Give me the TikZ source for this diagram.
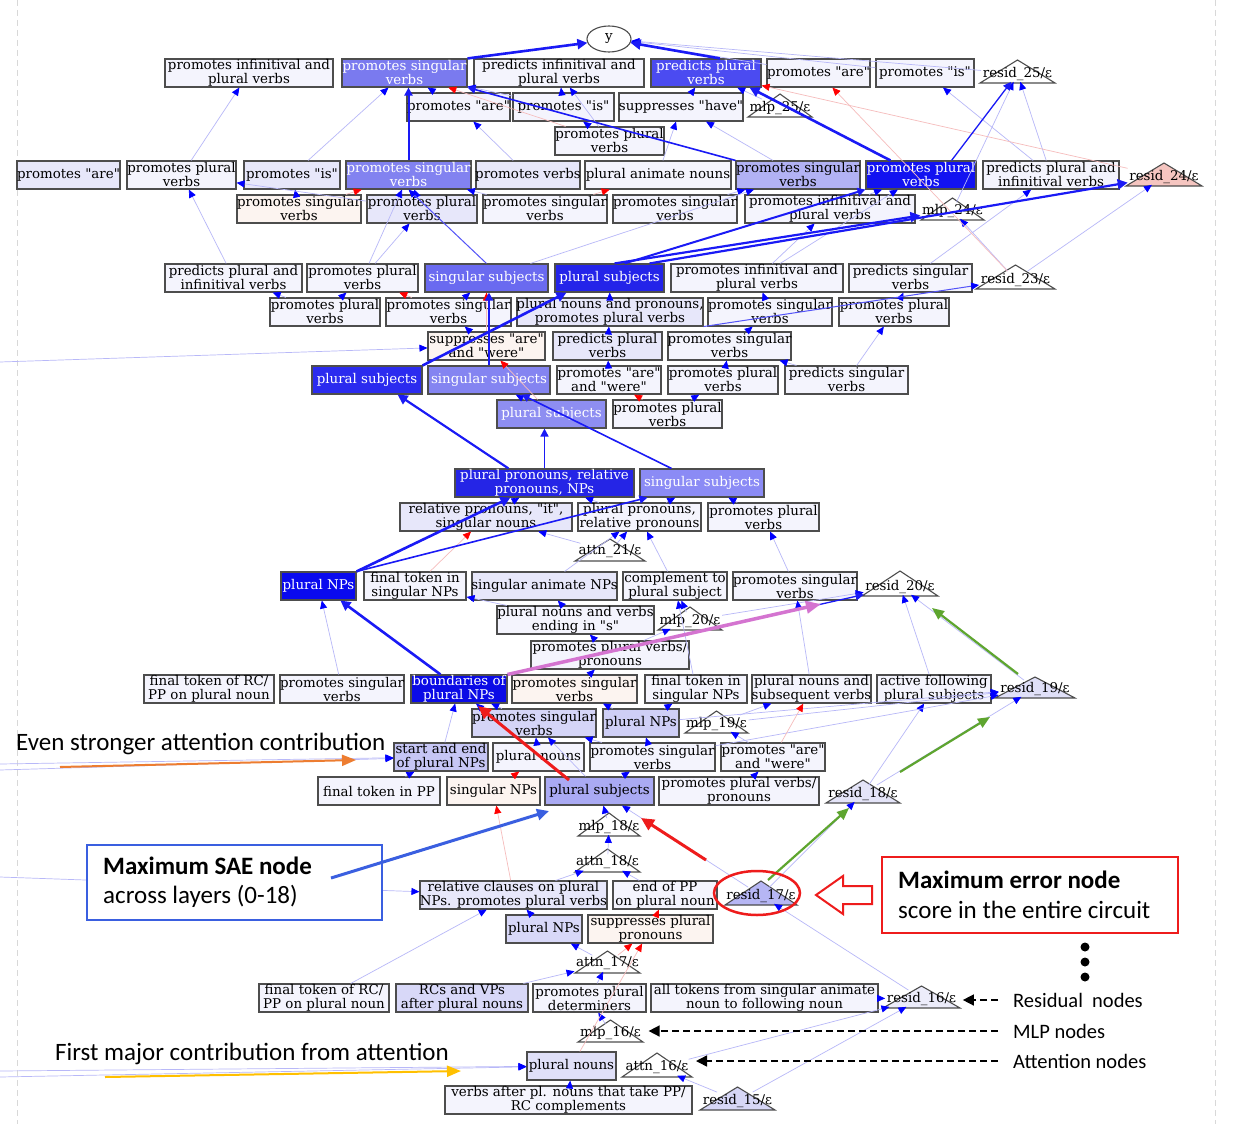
\documentclass[tikz,border=0pt]{standalone}
\usepackage{fontspec}
\usetikzlibrary{arrows.meta,shapes.geometric}
\newfontfamily\dvsfont{DejaVu Serif}[Ligatures=TeXOff]
\newfontfamily\carlfont{Carlito}
\newcommand\nodefnt{\dvsfont\fontsize{13.4}{14}\selectfont}
\newcommand\annfnt{\carlfont\fontsize{25}{29}\selectfont}
\newcommand\legfnt{\carlfont\fontsize{20.5}{24}\selectfont}
\definecolor{bord}{HTML}{4D4D4D}
\definecolor{lite}{HTML}{F4F4FD}
\definecolor{litb}{HTML}{E7E7FA}
\definecolor{pnk}{HTML}{FCF4F0}
\definecolor{cA2}{HTML}{7A7AEF}
\definecolor{cA4}{HTML}{4B4BF1}
\definecolor{cD4}{HTML}{8282F0}
\definecolor{cD7}{HTML}{B2B2F4}
\definecolor{cD8}{HTML}{1212F1}
\definecolor{cF3}{HTML}{6A6AF0}
\definecolor{cF4}{HTML}{2424E9}
\definecolor{cI1}{HTML}{2B2BEF}
\definecolor{cI2}{HTML}{8484F1}
\definecolor{cJ1}{HTML}{8E8EF1}
\definecolor{cK1}{HTML}{2525E6}
\definecolor{cK2}{HTML}{8B8BF5}
\definecolor{cM1}{HTML}{0A0AEF}
\definecolor{cP3}{HTML}{0B0BE6}
\definecolor{cQ1}{HTML}{D5D5F7}
\definecolor{cQ2}{HTML}{CFCFF6}
\definecolor{cR1}{HTML}{C6C6F5}
\definecolor{cS3}{HTML}{AAAAF3}
\definecolor{cU1}{HTML}{D8D8F8}
\definecolor{cW1}{HTML}{E0E0F8}
\definecolor{rpink}{HTML}{F5C5C0}
\definecolor{cR17}{HTML}{B6B6F4}
\definecolor{cR15}{HTML}{D6D6F6}
\definecolor{cR16}{HTML}{ECECFA}
\definecolor{cR18}{HTML}{E4E4F8}
\definecolor{cR19}{HTML}{E0E0F8}
\definecolor{edgeb}{HTML}{1A1AF5}
\definecolor{fblue}{HTML}{B8B8F8}
\definecolor{fred}{HTML}{F6BCBC}
\definecolor{ablue}{HTML}{3A5FE0}
\definecolor{ared}{HTML}{EE1C1C}
\definecolor{agreen}{HTML}{5EA52F}
\definecolor{amag}{HTML}{D474D0}
\definecolor{aorange}{HTML}{ED7D31}
\definecolor{ayellow}{HTML}{FFC000}
\definecolor{bordgray}{HTML}{D8D8D8}
\tikzset{
 box/.style={draw=bord,line width=1.1pt,inner sep=0pt,minimum height=28pt,rectangle},
 txt/.style={font=\nodefnt,align=center,inner sep=0pt},
 tl/.style={font=\nodefnt,inner sep=1.5pt},
 trib/.style={draw=bord,line width=1.1pt,line join=miter},
 fbl/.style={draw=fblue,line width=0.7pt,-{Triangle[length=8pt,width=7pt,color=blue]}},
 frd/.style={draw=fred,line width=0.7pt,-{Triangle[length=8pt,width=7pt,color=red]}},
 thk/.style={draw=edgeb,line width=2.6pt,-{Triangle[length=10pt,width=10pt]}},
 med/.style={draw=edgeb,line width=1.6pt,-{Triangle[length=8pt,width=8pt]}},
 lit/.style={draw=edgeb!75,line width=1pt,-{Triangle[length=8pt,width=7pt,color=blue]}},
 annb/.style={draw=ablue,line width=3pt,-{Triangle[length=12pt,width=11pt]}},
 annr/.style={draw=ared,line width=3pt,-{Triangle[length=13pt,width=12pt]}},
 anng/.style={draw=agreen,line width=2.2pt,-{Triangle[length=12pt,width=10pt]}},
 annm/.style={draw=amag,line width=3.5pt,-{Triangle[length=15pt,width=12pt]}},
 anno/.style={draw=aorange,line width=2pt,-{Triangle[length=14pt,width=11pt]}},
 anny/.style={draw=ayellow,line width=2pt,-{Triangle[length=14pt,width=11pt]}},
 legarr/.style={draw=black,line width=1.5pt,dash pattern=on 7pt off 4pt,-{Triangle[length=11pt,width=11pt]}},
}
% box: name, left, right, centre y, fill, text colour, text
\newcommand\bx[7]{%
  \node[box,fill=#5,minimum width={#3-#2}] (#1) at ({(#2+#3)/2},#4) {};
  \node[txt,text=#6] at (#1.center) {#7};}
% triangle: name, left, right, apex y, base y, fill, label
\newcommand\tri[7]{%
  \filldraw[trib,fill=#6] (#2,#5) -- ({(#2+#3)/2},#4) -- (#3,#5) -- cycle;
  \node[tl] (#1) at ({(#2+#3)/2},{#5-9.5}) {#7};}
\begin{document}
\begin{tikzpicture}[x=1pt,y=-1pt]
\fill[white] (0,0) rectangle (1234,1124);
\useasboundingbox (0,0) rectangle (1234,1124);
\draw[bordgray,line width=1pt,dash pattern=on 6pt off 4pt] (17,0) -- (17,1124);
\draw[bordgray,line width=1pt,dash pattern=on 6pt off 4pt] (1215,0) -- (1215,1124);

% ---------- nodes ----------
\node[draw=bord,line width=1.1pt,ellipse,fill=white,minimum width=44pt,minimum height=26pt,inner sep=0pt,font=\nodefnt] (y) at (609,39) {y};

\bx{A1}{165}{333}{73}{lite}{black}{promotes infinitival and\\plural verbs}
\bx{A2}{342}{467}{73}{cA2}{white}{promotes singular\\verbs}
\bx{A3}{474}{644}{73}{lite}{black}{predicts infinitival and\\plural verbs}
\bx{A4}{651}{761}{73}{cA4}{white}{predicts plural\\verbs}
\bx{A5}{767}{870}{73}{lite}{black}{promotes "are"}
\bx{A6}{876}{974}{73}{lite}{black}{promotes "is"}
\tri{r25}{980}{1055}{60}{83}{white}{resid\_25/ε}

\bx{B1}{407}{510}{107}{lite}{black}{promotes "are"}
\bx{B2}{513}{614}{107}{lite}{black}{promotes "is"}
\bx{B3}{619}{743}{107}{lite}{black}{suppresses "have"}
\tri{m25}{748}{812}{94}{117}{white}{mlp\_25/ε}
\bx{C1}{555}{664}{141}{lite}{black}{promotes plural\\verbs}

\bx{D1}{17}{120}{175}{litb}{black}{promotes "are"}
\bx{D2}{127}{236}{175}{lite}{black}{promotes plural\\verbs}
\bx{D3}{244}{340}{175}{litb}{black}{promotes "is"}
\bx{D4}{346}{471}{175}{cD4}{white}{promotes singular\\verbs}
\bx{D5}{476}{580}{175}{litb}{black}{promotes verbs}
\bx{D6}{585}{731}{175}{lite}{black}{plural animate nouns}
\bx{D7}{736}{860}{175}{cD7}{black}{promotes singular\\verbs}
\bx{D8}{866}{976}{175}{cD8}{white}{promotes plural\\verbs}
\bx{D9}{983}{1119}{175}{lite}{black}{predicts plural and\\infinitival verbs}
\tri{r24}{1126}{1202}{163}{186}{rpink}{resid\_24/ε}

\bx{E1}{237}{361}{209}{pnk}{black}{promotes singular\\verbs}
\bx{E2}{367}{477}{209}{litb}{black}{promotes plural\\verbs}
\bx{E3}{483}{607}{209}{lite}{black}{promotes singular\\verbs}
\bx{E4}{613}{737}{209}{lite}{black}{promotes singular\\verbs}
\bx{E5}{745}{915}{209}{lite}{black}{promotes infinitival and\\plural verbs}
\tri{m24}{921}{984}{198}{220}{white}{mlp\_24/ε}

\bx{F1}{165}{302}{278}{lite}{black}{predicts plural and\\infinitival verbs}
\bx{F2}{307}{418}{278}{lite}{black}{promotes plural\\verbs}
\bx{F3}{425}{548}{278}{cF3}{white}{singular subjects}
\bx{F4}{555}{664}{278}{cF4}{white}{plural subjects}
\bx{F5}{671}{843}{278}{lite}{black}{promotes infinitival and\\plural verbs}
\bx{F6}{849}{972}{278}{lite}{black}{predicts singular\\verbs}
\tri{r23}{976}{1055}{265}{289}{white}{resid\_23/ε}

\bx{G1}{270}{380}{312}{lite}{black}{promotes plural\\verbs}
\bx{G2}{386}{511}{312}{lite}{black}{promotes singular\\verbs}
\bx{G3}{517}{703}{312}{litb}{black}{plural nouns and pronouns,\\promotes plural verbs}
\bx{G4}{708}{832}{312}{lite}{black}{promotes singular\\verbs}
\bx{G5}{839}{949}{312}{lite}{black}{promotes plural\\verbs}

\bx{H1}{428}{545}{346}{pnk}{black}{suppresses "are"\\and "were"}
\bx{H2}{553}{662}{346}{litb}{black}{predicts plural\\verbs}
\bx{H3}{668}{791}{346}{lite}{black}{promotes singular\\verbs}

\bx{I1}{312}{422}{380}{cI1}{white}{plural subjects}
\bx{I2}{428}{550}{380}{cI2}{white}{singular subjects}
\bx{I3}{557}{661}{380}{lite}{black}{promotes "are"\\and "were"}
\bx{I4}{668}{778}{380}{lite}{black}{promotes plural\\verbs}
\bx{I5}{785}{908}{380}{lite}{black}{predicts singular\\verbs}

\bx{J1}{497}{606}{414}{cJ1}{white}{plural subjects}
\bx{J2}{613}{722}{414}{lite}{black}{promotes plural\\verbs}

\bx{K1}{455}{634}{483}{cK1}{white}{plural pronouns, relative\\pronouns, NPs}
\bx{K2}{640}{764}{483}{cK2}{white}{singular subjects}

\bx{L1}{400}{572}{517}{litb}{black}{relative pronouns, "it",\\singular nouns}
\bx{L2}{578}{701}{517}{lite}{black}{plural pronouns,\\relative pronouns}
\bx{L3}{708}{819}{517}{lite}{black}{promotes plural\\verbs}
\tri{a21}{575}{645}{539}{561}{white}{attn\_21/ε}

\bx{M1}{281}{356}{586}{cM1}{white}{plural NPs}
\bx{M2}{364}{466}{586}{lite}{black}{final token in\\singular NPs}
\bx{M3}{472}{617}{586}{litb}{black}{singular animate NPs}
\bx{M4}{623}{727}{586}{lite}{black}{complement to\\plural subject}
\bx{M5}{733}{857}{586}{lite}{black}{promotes singular\\verbs}
\tri{r20}{862}{938}{571}{596}{white}{resid\_20/ε}

\bx{N1}{497}{654}{620}{lite}{black}{plural nouns and verbs\\ending in "s"}
\tri{m20}{658}{722}{607}{630}{white}{mlp\_20/ε}
\bx{O1}{531}{689}{655}{lite}{black}{promotes plural verbs/\\pronouns}

\bx{P1}{144}{274}{689}{lite}{black}{final token of RC/\\PP on plural noun}
\bx{P2}{280}{404}{689}{lite}{black}{promotes singular\\verbs}
\bx{P3}{411}{507}{689}{cP3}{white}{boundaries of\\plural NPs}
\bx{P4}{512}{637}{689}{pnk}{black}{promotes singular\\verbs}
\bx{P5}{645}{747}{689}{lite}{black}{final token in\\singular NPs}
\bx{P6}{752}{871}{689}{lite}{black}{plural nouns and\\subsequent verbs}
\bx{P7}{877}{991}{689}{lite}{black}{active following\\plural subjects}
\tri{r19}{995}{1075}{677}{698}{cR19}{resid\_19/ε}

\bx{Q1}{472}{596}{723}{cQ1}{black}{promotes singular\\verbs}
\bx{Q2}{603}{679}{723}{cQ2}{black}{plural NPs}
\tri{m19}{685}{748}{711}{733}{white}{mlp\_19/ε}

\bx{R1}{394}{488}{757}{cR1}{black}{start and end\\of plural NPs}
\bx{R2}{493}{584}{757}{lite}{black}{plural nouns}
\bx{R3}{590}{715}{757}{lite}{black}{promotes singular\\verbs}
\bx{R4}{721}{825}{757}{lite}{black}{promotes "are"\\and "were"}

\bx{S1}{318}{440}{791}{lite}{black}{final token in PP}
\bx{S2}{447}{540}{791}{pnk}{black}{singular NPs}
\bx{S3}{545}{654}{791}{cS3}{black}{plural subjects}
\bx{S4}{659}{819}{791}{lite}{black}{promotes plural verbs/\\pronouns}
\tri{r18}{826}{900}{780}{803}{cR18}{resid\_18/ε}
\tri{m18}{578}{640}{813}{836}{white}{mlp\_18/ε}
\tri{a18}{575}{640}{849}{872}{white}{attn\_18/ε}

\bx{T1}{420}{607}{895}{litb}{black}{relative clauses on plural\\NPs. promotes plural verbs}
\bx{T2}{613}{717}{895}{lite}{black}{end of PP\\on plural noun}
\tri{r17}{725}{797}{881}{905}{cR17}{resid\_17/ε}

\bx{U1}{506}{582}{929}{cU1}{black}{plural NPs}
\bx{U2}{588}{713}{929}{pnk}{black}{suppresses plural\\pronouns}
\tri{a17}{575}{640}{951}{973}{white}{attn\_17/ε}

\bx{V1}{259}{389}{998}{lite}{black}{final token of RC/\\PP on plural noun}
\bx{V2}{396}{528}{998}{cU1}{black}{RCs and VPs\\after plural nouns}
\bx{V3}{533}{646}{998}{lite}{black}{promotes plural\\determiners}
\bx{V4}{651}{878}{998}{lite}{black}{all tokens from singular animate\\noun to following noun}
\tri{r16}{883}{960}{986}{1008}{cR16}{resid\_16/ε}
\tri{m16}{578}{643}{1020}{1042}{white}{mlp\_16/ε}
\bx{W1}{527}{616}{1066}{cW1}{black}{plural nouns}
\tri{a16}{622}{692}{1053}{1077}{white}{attn\_16/ε}
\bx{X1}{445}{692}{1100}{lite}{black}{verbs after pl. nouns that take PP/\\RC complements}
\tri{r15}{700}{775}{1087}{1110}{cR15}{resid\_15/ε}

% ---------- faint edges ----------
\coordinate (Lh) at (0,362);
\coordinate (Lr1) at (0,764);
\coordinate (Lr2) at (0,770);
\coordinate (Lt) at (0,877);
\coordinate (Lw1) at (0,1071);
\coordinate (Lw2) at (0,1077);
\foreach \s/\t in {r25/y, A5/y, A6/y, B1/A2, B2/A2, B2/A3, B3/A4, m25/A4, C1/A3, C1/B2,
  D3/A2, D2/A1, D5/B1, D6/B3, D7/B3, D9/r25, D9/A6, m24/r25, E5/D8, E4/D7, E3/D4, E2/D4,
  E1/D3, E2/D2, F1/D2, F2/D4, F2/E2, F3/D7, F5/D8, F5/E5, F6/D9, r23/r24, r23/m24,
  G1/F1, G1/F2, G2/F3, G3/F4, G4/F5, G5/F6, H1/G2, H2/G3, H3/G4, I3/H2, I4/H3, I5/G5,
  I5/H3, J1/I2, J2/I4, Lh/H1, L1/K1, L2/K1, L2/K2, L3/K2, a21/L2, a21/L1, M3/L2, M4/L2,
  M5/L3, N1/M3, N1/M2, m20/M4, m20/r20, O1/N1, O1/m20, P4/O1, P5/M4, P6/M5, P7/r20,
  r19/r20, P2/M1, Q1/P3, Q2/P4, Q2/P5, m19/P6, m19/r19, R1/P3, R2/P3, R2/Q1, R3/Q1,
  R3/Q2, R4/m19, S1/R1, S3/Q1, S3/R3, S4/R4, r18/r19, r18/P7, m18/S3, a18/m18, T1/a18,
  T2/a18, r17/r18, r17/S3, U1/T1, a17/U1, V2/a17, V1/T1, V3/a17, m16/V3, r16/r17,
  a16/r16, X1/W1, r15/r16, r15/a16, Lr1/R1, Lr2/R1, Lt/T1, Lw1/W1, Lw2/W1, R3/r19,
  Q2/r19, V4/r16}
  {\draw[fbl] (\s) -- (\t);}
\foreach \s/\t in {C1/A2, E3/D6, r24/A4, r23/A5, H1/F3, J2/I3, J1/H1, M2/L1, R4/P6,
  S2/R2, T1/S2, U2/T2, a17/U2, W1/U2, E1/D4, G2/F2}
  {\draw[frd] (\s) -- (\t);}

% ---------- main edges ----------
\draw[thk] (A2.north east) -- (y.190);
\draw[thk] ([xshift=14pt]A4.north) -- (y.-10);
\draw[med,line width=2pt] (D4.north) -- (D4.north |- A2.south);
\draw[med] (D7.north west) -- (A2.south east);
\draw[thk] ([xshift=25pt]D8.north west) -- ([xshift=-12pt]A4.south east);
\draw[med,line width=1.3pt] ([xshift=-25pt]D8.north east) -- (r25);
\draw[lit] (F3.north) -- (D4.south);
\draw[med,line width=2pt] ([xshift=15pt]F4.north) -- (D8.south west);
\draw[thk,line width=2.2pt] ([xshift=-15pt]F4.north east) -- (r24);
\draw[thk,line width=2.2pt] ([xshift=5pt]F4.north) -- (m24);
\draw[thk] (I1.north east) -- ([xshift=12pt]F4.south west);
\draw[med] (I2.north) -- (I2.north |- F3.south);
\draw[thk,line width=2.2pt] ([xshift=54pt]K1.north west) -- ([xshift=-25pt]I1.south east);
\draw[med] (K1.north) -- (K1.north |- J1.south);
\draw[med] ([xshift=32pt]K2.north west) -- ([xshift=-29pt]I2.south east);
\draw[thk] (M1.north east) -- ([xshift=56pt]K1.south west);
\draw[med] (M1.north east) -- ([xshift=8pt]K2.south west);
\draw[thk] ([xshift=30pt]P3.north west) -- ([xshift=60pt]M1.south west);
\draw[med,line width=1.3pt] (P3.north east) -- (r20);
\draw[lit] (G3.south east) -- (r23);

% ---------- annotations ----------
\coordinate (pkH) at (821,604);
\draw[annm] (P3.north east) -- (pkH);
\coordinate (rd1t) at (706,860);
\coordinate (rd1h) at (641,818);
\draw[annr] (rd1t) -- (rd1h);
\coordinate (rd2t) at (569,780);
\coordinate (rd2h) at (478,706);
\draw[annr] (rd2t) -- (rd2h);
\coordinate (g1t) at (768,880); \coordinate (g1h) at (849,808);
\coordinate (g2t) at (900,772); \coordinate (g2h) at (990,717);
\coordinate (g3t) at (1018,674); \coordinate (g3h) at (932,608);
\draw[anng] (g1t) -- (g1h);
\draw[anng] (g2t) -- (g2h);
\draw[anng] (g3t) -- (g3h);

\draw[ared,line width=2.5pt] (757,893) ellipse [x radius=43pt, y radius=22pt];
\draw[ared,line width=2pt,fill=white,line join=miter]
  (816,895) -- (843,876) -- (843,886) -- (872,886) -- (872,904) -- (843,904) -- (843,914) -- cycle;

\node[draw=ablue,line width=1.8pt,fill=white,minimum width=295pt,minimum height=75pt,inner sep=0pt] (saebox) at (234.5,882.5) {};
\node[anchor=west,inner sep=0pt,font=\annfnt\bfseries] (sae1) at (103,866) {Maximum SAE node};
\node[anchor=west,inner sep=0pt,font=\annfnt] (sae2) at (103,896) {across layers (0-18)};
\coordinate (sat) at (331,878);
\coordinate (sah) at (549,811);
\draw[annb] (sat) -- (sah);

\node[draw=ared,line width=1.5pt,fill=white,minimum width=296pt,minimum height=76pt,inner sep=0pt] (errbox) at (1030,895) {};
\node[anchor=west,inner sep=0pt,font=\annfnt\bfseries] (err1) at (898,880) {Maximum error node};
\node[anchor=west,inner sep=0pt,font=\annfnt] (err2) at (898,910) {score in the entire circuit};

\node[anchor=west,inner sep=0pt,font=\annfnt] (t1) at (16,744) {Even stronger attention contribution};
\coordinate (ort) at (60,767); \coordinate (orh) at (356,760);
\draw[anno] (ort) -- (orh);
\node[anchor=west,inner sep=0pt,font=\annfnt] (t2) at (55,1054) {First major contribution from attention};
\coordinate (yet) at (105,1077); \coordinate (yeh) at (461,1071);
\draw[anny] (yet) -- (yeh);

\fill[black] (1085,947) circle (4.5pt);
\fill[black] (1085,962) circle (4.5pt);
\fill[black] (1085,977) circle (4.5pt);

\node[anchor=west,inner sep=0pt,font=\legfnt] (legR) at (1013,1000) {Residual~ nodes};
\node[anchor=west,inner sep=0pt,font=\legfnt] (legM) at (1013,1031) {MLP nodes};
\node[anchor=west,inner sep=0pt,font=\legfnt] (legA) at (1013,1061) {Attention nodes};
\draw[legarr] ([xshift=-15pt]legR.west) -- ([xshift=5pt]r16.east |- legR.west);
\draw[legarr] ([xshift=-15pt]legM.west) -- ([xshift=6pt]m16.east |- legM.west);
\draw[legarr] ([xshift=-15pt]legA.west) -- ([xshift=6pt]a16.east |- legA.west);
\end{tikzpicture}
\end{document}
